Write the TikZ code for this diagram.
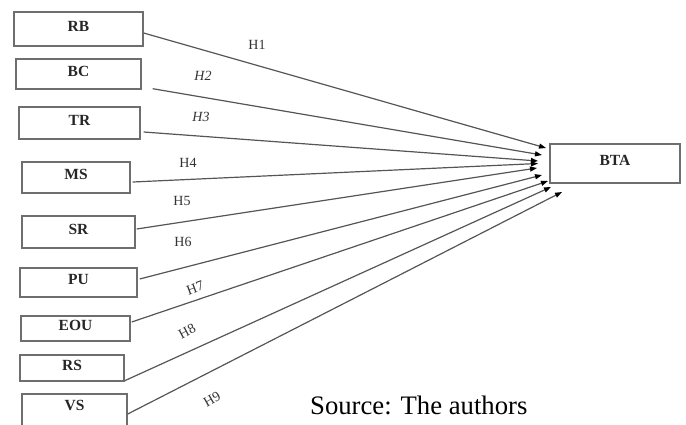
\documentclass[tikz,border=0pt]{standalone}
\usepackage{fontspec}
\setmainfont{Liberation Serif}
\usetikzlibrary{arrows.meta,calc}
\definecolor{boxgray}{HTML}{6E6E6E}
\definecolor{linegray}{HTML}{555555}
\begin{document}
\begin{tikzpicture}[x=1pt,y=-1pt,
  vbox/.style={draw=boxgray,line width=1.4pt,rectangle,inner sep=0pt},
  boxtxt/.style={font=\bfseries\fontsize{15.5}{15.5}\selectfont,text=black!85,yshift=3pt,inner sep=0pt},
  link/.style={draw=linegray,line width=1.2pt,-{Triangle[length=7pt,width=5pt,color=black]}},
  hlab/.style={font=\fontsize{14}{14}\selectfont,text=black!80,inner sep=0pt},
  ilab/.style={hlab,font=\itshape\fontsize{14}{14}\selectfont},
  ]
\useasboundingbox (0,0) rectangle (686,424);
\clip (0,0) rectangle (686,424);
% boxes
\node[vbox,minimum width=129pt,minimum height=34pt,label={[boxtxt]center:RB}] (RB) at (78.5,29) {};
\node[vbox,minimum width=125pt,minimum height=30pt,label={[boxtxt]center:BC}] (BC) at (78.5,74) {};
\node[vbox,minimum width=121pt,minimum height=32pt,label={[boxtxt]center:TR}] (TR) at (79.5,123) {};
\node[vbox,minimum width=108pt,minimum height=31pt,label={[boxtxt]center:MS}] (MS) at (76,177.5) {};
\node[vbox,minimum width=113pt,minimum height=32pt,label={[boxtxt]center:SR}] (SR) at (78.5,232) {};
\node[vbox,minimum width=117pt,minimum height=29pt,label={[boxtxt]center:PU}] (PU) at (78.5,282.5) {};
\node[vbox,minimum width=109pt,minimum height=25pt,label={[boxtxt]center:EOU}] (EOU) at (75.5,328.5) {};
\node[vbox,minimum width=104pt,minimum height=26pt,label={[boxtxt]center:RS}] (RS) at (72,368) {};
\node[vbox,minimum width=105pt,minimum height=36pt,label={[boxtxt,yshift=4pt]center:VS}] (VS) at (74.5,412) {};
\node[vbox,minimum width=130pt,minimum height=39pt,label={[boxtxt]center:BTA}] (BTA) at (615,163.5) {};
% arrow end points near BTA
\coordinate (e1) at (546,148);
\coordinate (e2) at (542,155);
\coordinate (e3) at (538,161);
\coordinate (e4) at (538,163.5);
\coordinate (e5) at (537,168);
\coordinate (e6) at (542,175);
\coordinate (e7) at (548,181);
\coordinate (e8) at (551,187);
\coordinate (e9) at (562,192);
% connectors
\draw[link] ($(RB.east)+(0,4)$) -- (e1);
\draw[link] ($(BC.south east)+(11,-1)$) -- (e2);
\draw[link] ($(TR.east)+(3,9)$) -- (e3);
\draw[link] ($(MS.east)+(2,4.5)$) -- (e4);
\draw[link] ($(SR.east)+(1,-3)$) -- (e5);
\draw[link] ($(PU.east)+(2,-3.5)$) -- (e6);
\draw[link] ($(EOU.east)+(1,-6.5)$) -- (e7);
\draw[link] ($(RS.south east)+(0,-1)$) -- (e8);
\draw[link] ($(VS.east)+(0,2)$) -- (e9);
% labels
\node[hlab] (h1) at (257,45) {H1};
\node[ilab] (h2) at (203,76) {H2};
\node[ilab] (h3) at (201,117) {H3};
\node[hlab] (h4) at (188,163) {H4};
\node[hlab] (h5) at (182,201) {H5};
\node[hlab] (h6) at (183,242) {H6};
\node[hlab,rotate=20] (h7) at (195,288) {H7};
\node[hlab,rotate=28] (h8) at (187,331) {H8};
\node[hlab,rotate=30] (h9) at (212,399) {H9};
\node[anchor=base west,inner sep=0pt,font=\fontsize{26.7}{26.7}\selectfont] (src) at (310,414) {Source: The authors};
\end{tikzpicture}
\end{document}
